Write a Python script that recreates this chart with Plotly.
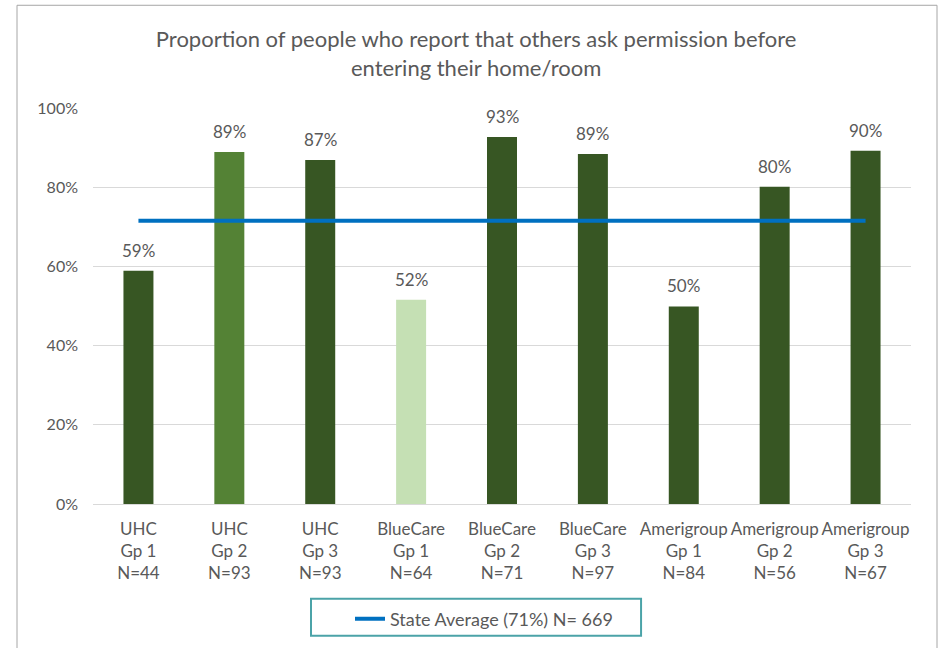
import plotly.graph_objects as go

plans = ["UHC", "UHC", "UHC", "BlueCare", "BlueCare", "BlueCare", "Amerigroup", "Amerigroup", "Amerigroup"]
groups = ["Gp 1", "Gp 2", "Gp 3", "Gp 1", "Gp 2", "Gp 3", "Gp 1", "Gp 2", "Gp 3"]
ns = [44, 93, 93, 64, 71, 97, 84, 56, 67]
values = [58.9, 88.9, 86.9, 51.6, 92.7, 88.4, 49.9, 80.1, 89.2]
labels = ["59%", "89%", "87%", "52%", "93%", "89%", "50%", "80%", "90%"]
bar_colors = ["#375623", "#548235", "#375623", "#C5E0B4", "#375623", "#375623", "#375623", "#375623", "#375623"]
state_avg = 71.5
legend_name = "State Average (71%) N= 669"
title_text = "Proportion of people who report that others ask permission before<br>entering their home/room"
y_ticks = [0, 20, 40, 60, 80, 100]
y_ticktext = ["0%", "20%", "40%", "60%", "80%", "100%"]

FONT = "Lato, Roboto, sans-serif"
GRAY = "#595959"

xs = list(range(len(values)))
ticktext = [f"{p}<br>{g}<br>N={n}" for p, g, n in zip(plans, groups, ns)]

fig = go.Figure()
fig.add_trace(go.Bar(x=xs, y=values, marker=dict(color=bar_colors, line=dict(width=0)),
                     showlegend=False, hoverinfo="skip"))
fig.add_trace(go.Scatter(x=xs, y=[state_avg] * len(xs), mode="lines",
                         line=dict(color="#0070C0", width=4), name=legend_name))

for x, v, t in zip(xs, values, labels):
    fig.add_annotation(x=x, y=v, text=t, showarrow=False, yanchor="bottom", yshift=8,
                       bgcolor="white", font=dict(family=FONT, size=17, color=GRAY))

# outer chart border
fig.add_shape(type="rect", xref="paper", yref="paper", x0=-0.0929, x1=1.0318, y0=-0.5, y1=1.2594,
              line=dict(color="#A6A6A6", width=1), fillcolor="rgba(0,0,0,0)", layer="below")
# legend box
fig.add_shape(type="rect", xref="paper", yref="paper", x0=0.2665, x1=0.670, y0=-0.3325, y1=-0.2393,
              line=dict(color="#4BA3A8", width=2), fillcolor="white", layer="below")

fig.update_layout(
    width=941, height=648,
    margin=dict(l=93, r=30, t=108, b=143),
    paper_bgcolor="white", plot_bgcolor="white",
    bargap=0.67,
    title=dict(text=title_text, x=0.506, xanchor="center", y=1 - 47 / 648, yanchor="middle",
               yref="container", font=dict(family=FONT, size=22, color=GRAY)),
    font=dict(family=FONT, color=GRAY),
    xaxis=dict(tickmode="array", tickvals=xs, ticktext=ticktext, range=[-0.5, 8.5],
               showgrid=False, showline=False, zeroline=False, ticks="", ticklabelstandoff=13,
               tickfont=dict(family=FONT, size=17, color=GRAY)),
    yaxis=dict(range=[0, 100], tickmode="array", tickvals=y_ticks, ticktext=y_ticktext,
               showgrid=True, gridcolor="#D9D9D9", gridwidth=1, zeroline=True,
               zerolinecolor="#D9D9D9", zerolinewidth=1, ticks="", ticklabelstandoff=14,
               tickfont=dict(family=FONT, size=16, color=GRAY)),
    showlegend=True,
    legend=dict(orientation="h", x=(350 - 93) / 818, xanchor="left", y=(505 - 619) / 397, yanchor="middle",
                borderwidth=0, bgcolor="rgba(0,0,0,0)",
                font=dict(family=FONT, size=18, color=GRAY)),
)

fig.write_html("out.html", config={"displayModeBar": False},
               post_script="document.body.style.margin='0';")
